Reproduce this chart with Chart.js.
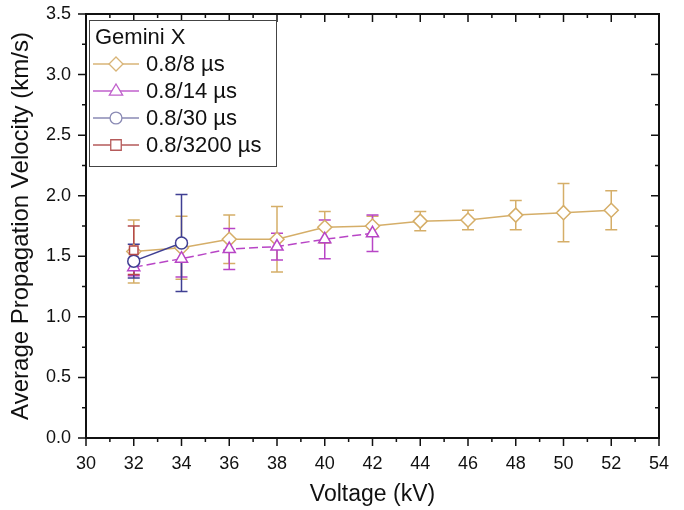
<!DOCTYPE html>
<html>
<head>
<meta charset="utf-8">
<script src="https://cdn.jsdelivr.net/npm/chart.js@4.4.1/dist/chart.umd.min.js"></script>
<style>
  html, body { margin: 0; padding: 0; background: #fff; }
  #wrap { width: 684px; height: 510px; }
</style>
</head>
<body>
<div id="wrap"><canvas id="c" width="684" height="510"></canvas></div>
<script>
// Average propagation velocity vs. charging voltage, Gemini X generator
const legendTitle = 'Gemini X';
const seriesNames = ['0.8/8 µs', '0.8/14 µs', '0.8/30 µs', '0.8/3200 µs'];

const volt8 = [32, 34, 36, 38, 40, 42, 44, 46, 48, 50, 52];
const vel8  = [1.54, 1.57, 1.64, 1.64, 1.74, 1.75, 1.79, 1.80, 1.84, 1.86, 1.88];
const err8  = [0.26, 0.26, 0.20, 0.27, 0.13, 0.08, 0.08, 0.08, 0.12, 0.24, 0.16];

const volt14 = [32, 34, 36, 38, 40, 42];
const vel14  = [1.41, 1.48, 1.56, 1.58, 1.64, 1.69];
const err14  = [0.07, 0.15, 0.17, 0.11, 0.16, 0.15];

const volt30 = [32, 34];
const vel30  = [1.46, 1.61];
const err30  = [0.14, 0.40];

const volt3200 = [32];
const vel3200  = [1.55];
const err3200  = [0.20];

const xTickValues = [30, 32, 34, 36, 38, 40, 42, 44, 46, 48, 50, 52, 54];
const yTickValues = [0, 0.5, 1.0, 1.5, 2.0, 2.5, 3.0, 3.5];

const colors = ['#D5AE68', '#B845C6', '#3F3F93', '#B54A4A'];
const legendColors = ['#D8B477', '#C060CC', '#8A8AB4', '#B55A5A'];
const shapes = ['rectRot', 'triangle', 'circle', 'rect'];
const radii = [7, 7, 6, 6];

const toPoints = (xs, ys) => xs.map((x, i) => ({ x: x, y: ys[i] }));
const seriesX = [volt8, volt14, volt30, volt3200];
const seriesY = [vel8, vel14, vel30, vel3200];
const seriesE = [err8, err14, err30, err3200];

const datasets = seriesNames.map((name, i) => ({
  label: name,
  data: toPoints(seriesX[i], seriesY[i]),
  errors: seriesE[i],
  borderColor: colors[i],
  backgroundColor: '#ffffff',
  borderWidth: 1.5,
  borderDash: i === 1 ? [9, 4] : [],
  pointStyle: shapes[i],
  pointRadius: radii[i],
  pointBorderWidth: 1.5,
  pointBackgroundColor: '#ffffff',
  pointBorderColor: colors[i],
  tension: 0,
  order: 3 - i
}));

// Vertical error bars with caps, drawn beneath the markers
const errorBars = {
  id: 'errorBars',
  beforeDatasetsDraw(chart) {
    const { ctx, scales: { x, y } } = chart;
    ctx.save();
    ctx.lineWidth = 1.5;
    chart.data.datasets.forEach((ds) => {
      ctx.strokeStyle = ds.borderColor;
      ds.data.forEach((p, j) => {
        const e = ds.errors[j];
        const px = x.getPixelForValue(p.x);
        const top = y.getPixelForValue(p.y + e);
        const bot = y.getPixelForValue(p.y - e);
        ctx.beginPath();
        ctx.moveTo(px, top); ctx.lineTo(px, bot);
        ctx.moveTo(px - 6, top); ctx.lineTo(px + 6, top);
        ctx.moveTo(px - 6, bot); ctx.lineTo(px + 6, bot);
        ctx.stroke();
      });
    });
    ctx.restore();
  }
};

// Closed frame with outward ticks on bottom/left and inward ticks on top/right
const frame = {
  id: 'frame',
  afterDraw(chart) {
    const { ctx, chartArea: a, scales: { x, y } } = chart;
    ctx.save();
    ctx.strokeStyle = '#111';
    ctx.lineWidth = 2;
    ctx.strokeRect(a.left, a.top, a.right - a.left, a.bottom - a.top);
    ctx.lineWidth = 1.5;
    ctx.beginPath();
    xTickValues.forEach((v, i) => {
      const px = x.getPixelForValue(v);
      ctx.moveTo(px, a.bottom); ctx.lineTo(px, a.bottom + 8);
      ctx.moveTo(px, a.top); ctx.lineTo(px, a.top + 8);
      if (i < xTickValues.length - 1) {
        const m = x.getPixelForValue((v + xTickValues[i + 1]) / 2);
        ctx.moveTo(m, a.bottom); ctx.lineTo(m, a.bottom + 4);
        ctx.moveTo(m, a.top); ctx.lineTo(m, a.top + 4);
      }
    });
    yTickValues.forEach((v, i) => {
      const py = y.getPixelForValue(v);
      ctx.moveTo(a.left - 8, py); ctx.lineTo(a.left, py);
      ctx.moveTo(a.right - 8, py); ctx.lineTo(a.right, py);
      if (i < yTickValues.length - 1) {
        const m = y.getPixelForValue((v + yTickValues[i + 1]) / 2);
        ctx.moveTo(a.left - 4, m); ctx.lineTo(a.left, m);
        ctx.moveTo(a.right - 4, m); ctx.lineTo(a.right, m);
      }
    });
    ctx.stroke();
    ctx.restore();
  }
};

function drawMarker(ctx, shape, cx, cy, r) {
  ctx.beginPath();
  if (shape === 'rectRot') {
    ctx.moveTo(cx, cy - r); ctx.lineTo(cx + r, cy); ctx.lineTo(cx, cy + r); ctx.lineTo(cx - r, cy); ctx.closePath();
  } else if (shape === 'triangle') {
    ctx.moveTo(cx, cy - r); ctx.lineTo(cx + r * 0.95, cy + r * 0.6); ctx.lineTo(cx - r * 0.95, cy + r * 0.6); ctx.closePath();
  } else if (shape === 'circle') {
    ctx.arc(cx, cy, r * 0.85, 0, Math.PI * 2);
  } else {
    ctx.rect(cx - r * 0.75, cy - r * 0.75, r * 1.5, r * 1.5);
  }
  ctx.fill(); ctx.stroke();
}

// Boxed legend in the upper-left corner of the plot
const boxLegend = {
  id: 'boxLegend',
  afterDraw(chart) {
    const { ctx, chartArea: a } = chart;
    const left = a.left + 3, top = a.top + 6, w = 187, h = 146;
    ctx.save();
    ctx.fillStyle = '#fff';
    ctx.fillRect(left, top, w, h);
    ctx.strokeStyle = '#444';
    ctx.lineWidth = 1;
    ctx.strokeRect(left + 0.5, top + 0.5, w, h);
    ctx.font = '22px "Liberation Sans", Arial, sans-serif';
    ctx.textBaseline = 'middle';
    ctx.fillStyle = '#111';
    ctx.fillText(legendTitle, left + 6, top + 18);
    seriesNames.forEach((name, i) => {
      const cy = top + 44 + i * 27;
      ctx.strokeStyle = legendColors[i];
      ctx.lineWidth = 1.3;
      ctx.beginPath();
      ctx.moveTo(left + 4, cy); ctx.lineTo(left + 50, cy);
      ctx.stroke();
      ctx.fillStyle = '#fff';
      drawMarker(ctx, shapes[i], left + 27, cy, 7);
      ctx.fillStyle = '#111';
      ctx.fillText(name, left + 57, cy + 1);
    });
    ctx.restore();
  }
};

const tickFont = { family: '"Liberation Sans", Arial, sans-serif', size: 18 };
const xTitleFont = { family: '"Liberation Sans", Arial, sans-serif', size: 23 };
const yTitleFont = { family: '"Liberation Sans", Arial, sans-serif', size: 24 };

new Chart(document.getElementById('c'), {
  type: 'line',
  data: { datasets: datasets },
  options: {
    responsive: false,
    animation: false,
    layout: { padding: { left: 4, top: 14, right: 25, bottom: 0 } },
    plugins: { legend: { display: false }, tooltip: { enabled: false } },
    scales: {
      x: {
        type: 'linear', min: 30, max: 54,
        grid: { display: false },
        border: { display: false },
        afterBuildTicks: (s) => { s.ticks = xTickValues.map(v => ({ value: v })); },
        afterFit: (s) => { s.height = 72; s.paddingLeft = 0; s.paddingRight = 0; },
        ticks: { color: '#111', font: tickFont, padding: 7, maxRotation: 0, callback: (v) => String(v) },
        title: { display: true, text: 'Voltage (kV)', color: '#111', font: xTitleFont, padding: { top: 0, bottom: 2 } }
      },
      y: {
        type: 'linear', min: 0, max: 3.5,
        grid: { display: false },
        border: { display: false },
        afterBuildTicks: (s) => { s.ticks = yTickValues.map(v => ({ value: v })); },
        afterFit: (s) => { s.width = 82; s.paddingTop = 0; s.paddingBottom = 0; },
        ticks: { color: '#111', font: tickFont, padding: 7, callback: (v) => Number(v).toFixed(1) },
        title: { display: true, text: 'Average Propagation Velocity (km/s)', color: '#111', font: yTitleFont, padding: { top: 3, bottom: 0 } }
      }
    }
  },
  plugins: [errorBars, frame, boxLegend]
});
</script>
</body>
</html>
